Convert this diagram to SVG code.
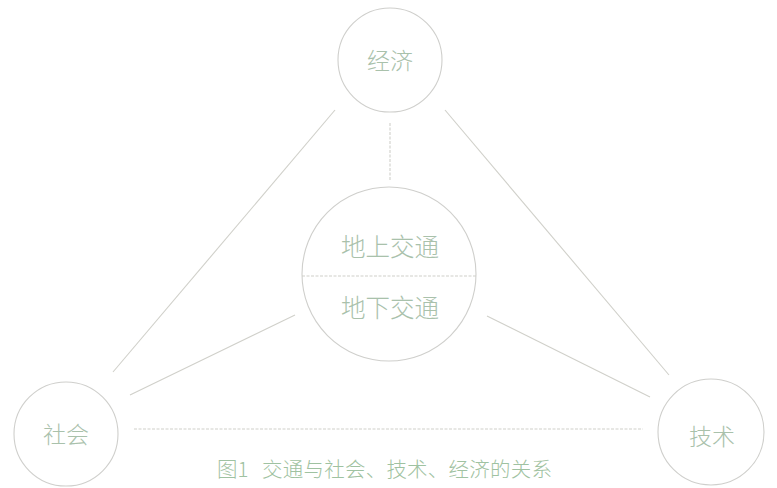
<svg xmlns="http://www.w3.org/2000/svg" width="777" height="488" viewBox="0 0 777 488">
<style>
.node{fill:#ffffff;stroke:#cfcfcc;stroke-width:1.1}
.lbl{font-family:"Noto Sans CJK SC","Noto Sans CJK JP",sans-serif;font-weight:300;fill:#a9c1ab;text-anchor:middle}
.ln{stroke:#d0d0ca;stroke-width:1.1;fill:none}
.dash{stroke-dasharray:3 1.5}
.cap{font-family:"Noto Sans CJK SC","Noto Sans CJK JP",sans-serif;font-weight:300;fill:#9fc2a1;font-size:20.5px}
</style>
<rect width="777" height="488" fill="#ffffff"/>
<g id="connectors">
<line class="ln" x1="335" y1="110" x2="113" y2="372"/>
<line class="ln" x1="445" y1="110" x2="669" y2="375"/>
<line class="ln dash" x1="390" y1="123" x2="390" y2="180"/>
<line class="ln" x1="130" y1="395" x2="295" y2="315"/>
<line class="ln" x1="487" y1="316" x2="650" y2="397"/>
<line class="ln dash" x1="134" y1="429" x2="643" y2="429"/>
</g>
<g id="jingji">
<circle class="node" cx="390" cy="60" r="52"/>
<text class="lbl" x="390" y="69" font-size="23">经济</text>
</g>
<g id="jiaotong">
<circle class="node" cx="389" cy="274" r="87"/>
<line class="ln dash" x1="302" y1="276" x2="476" y2="276"/>
<text class="lbl" x="390" y="256" font-size="24.5">地上交通</text>
<text class="lbl" x="390" y="317" font-size="24.5">地下交通</text>
</g>
<g id="shehui">
<circle class="node" cx="66" cy="434" r="52"/>
<text class="lbl" x="66" y="443" font-size="23">社会</text>
</g>
<g id="jishu">
<circle class="node" cx="711" cy="432" r="53"/>
<text class="lbl" x="712" y="445" font-size="23">技术</text>
</g>
<g id="caption">
<text class="cap" x="217" y="477">图1</text>
<text class="cap" x="262" y="477" textLength="290" lengthAdjust="spacing">交通与社会、技术、经济的关系</text>
</g>
</svg>
